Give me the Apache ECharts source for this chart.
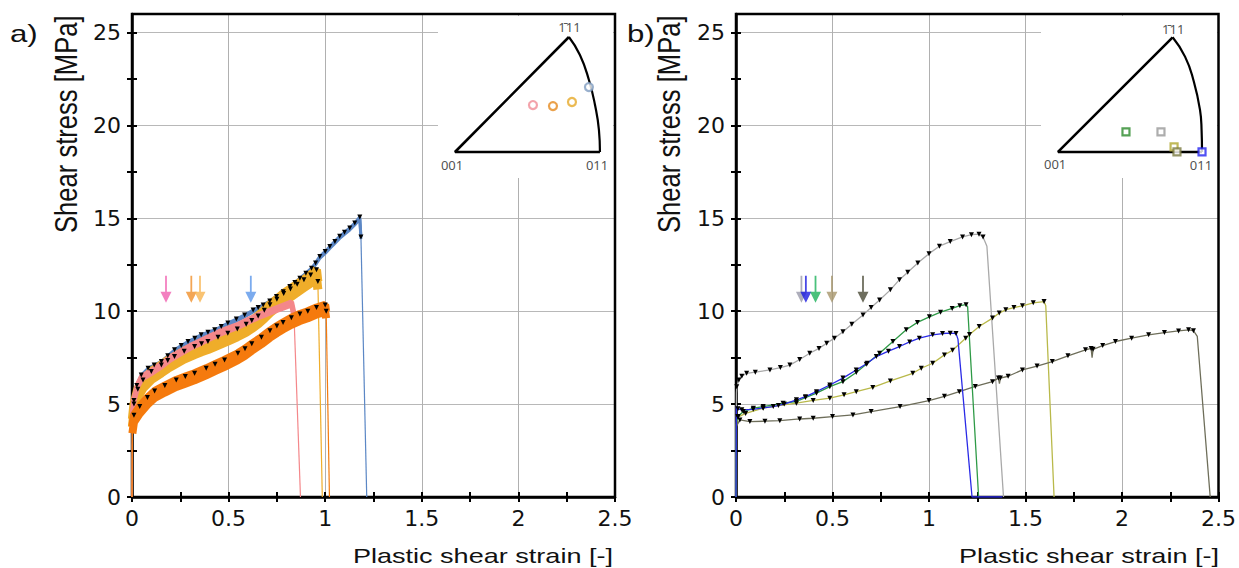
<!DOCTYPE html>
<html><head><meta charset="utf-8">
<script src="https://cdn.jsdelivr.net/npm/echarts@6.0.0/dist/echarts.min.js"></script>
<style>html,body{margin:0;padding:0;background:#fff}#c{width:1239px;height:568px}</style>
</head><body><div id="c"></div>
<script>
// ---------------- data ----------------
const X_TICKS = [0, 0.5, 1, 1.5, 2, 2.5];
const X_MINOR_TICKS = [0, 0.25, 0.5, 0.75, 1, 1.25, 1.5, 1.75, 2, 2.25, 2.5];
const Y_TICKS = [0, 5, 10, 15, 20, 25];
const Y_MINOR_TICKS = [0, 2.5, 5, 7.5, 10, 12.5, 15, 17.5, 20, 22.5, 25];
const Y_MAX = 26;

// panel a) experimental curves (strain, stress)
const curveA_blue = [[0,0],[0.002,4.2],[0.01,5.2],[0.025,6.0],[0.048,6.57],[0.083,6.93],[0.115,7.1],[0.152,7.3],[0.185,7.6],[0.22,7.92],[0.255,8.15],[0.29,8.37],[0.325,8.55],[0.358,8.73],[0.393,8.87],[0.428,9.0],[0.462,9.18],[0.496,9.36],[0.54,9.58],[0.583,9.8],[0.627,10.07],[0.653,10.2],[0.679,10.34],[0.713,10.55],[0.748,10.79],[0.783,11.05],[0.817,11.33],[0.843,11.55],[0.869,11.78],[0.9,12.05],[0.929,12.32],[0.95,12.6],[0.972,12.95],[1.0,13.22],[1.024,13.49],[1.05,13.76],[1.075,14.03],[1.1,14.25],[1.127,14.48],[1.153,14.75],[1.179,15.07],[1.185,14.0],[1.215,0]];
const curveA_pink = [[0,0],[0.002,4.4],[0.01,5.3],[0.03,6.1],[0.05,6.5],[0.1,6.8],[0.15,7.15],[0.2,7.55],[0.25,7.85],[0.3,8.15],[0.35,8.4],[0.4,8.65],[0.45,8.9],[0.5,9.1],[0.55,9.3],[0.6,9.55],[0.65,9.8],[0.7,10.0],[0.75,10.2],[0.8,10.4],[0.826,10.5],[0.838,9.9],[0.872,0]];
const curveA_yellow = [[0,0],[0.002,4.2],[0.01,5.0],[0.03,5.8],[0.057,6.3],[0.1,6.75],[0.152,7.11],[0.185,7.35],[0.22,7.56],[0.27,7.85],[0.324,8.1],[0.36,8.25],[0.393,8.37],[0.445,8.6],[0.496,8.82],[0.545,9.05],[0.591,9.3],[0.62,9.5],[0.653,9.75],[0.685,10.05],[0.714,10.35],[0.75,10.65],[0.785,10.95],[0.82,11.2],[0.855,11.45],[0.89,11.7],[0.925,11.95],[0.955,12.23],[0.962,11.6],[0.985,0]];
const curveA_orange = [[0,0],[0.002,3.8],[0.01,4.4],[0.04,4.87],[0.08,5.35],[0.117,5.7],[0.17,6.0],[0.229,6.3],[0.276,6.48],[0.324,6.66],[0.384,6.93],[0.43,7.15],[0.479,7.38],[0.548,7.74],[0.585,7.98],[0.62,8.25],[0.67,8.6],[0.714,8.95],[0.75,9.2],[0.782,9.4],[0.825,9.65],[0.869,9.85],[0.91,10.0],[0.955,10.2],[1.0,10.34],[1.005,10.0],[1.022,0]];

// panel b) curves
const curveB_gray = [[0,0],[0.002,5.6],[0.004,5.94],[0.015,6.3],[0.03,6.5],[0.055,6.66],[0.1,6.72],[0.176,6.84],[0.23,6.97],[0.279,7.1],[0.33,7.4],[0.382,7.74],[0.43,8.0],[0.47,8.28],[0.51,8.55],[0.554,8.9],[0.6,9.3],[0.658,9.8],[0.7,10.2],[0.744,10.6],[0.8,11.15],[0.847,11.7],[0.89,12.1],[0.942,12.6],[1.0,13.1],[1.054,13.5],[1.11,13.75],[1.174,14.0],[1.22,14.12],[1.259,14.15],[1.28,14.0],[1.3,13.5],[1.386,0]];
const curveB_blue = [[0,0],[0.002,4.87],[0.01,4.75],[0.03,4.69],[0.089,4.72],[0.14,4.8],[0.193,4.87],[0.25,5.0],[0.313,5.23],[0.36,5.4],[0.417,5.67],[0.486,6.03],[0.554,6.4],[0.623,6.84],[0.68,7.2],[0.727,7.56],[0.79,7.85],[0.847,8.1],[0.9,8.35],[0.95,8.55],[1.019,8.73],[1.07,8.8],[1.11,8.82],[1.14,8.8],[1.15,8.5],[1.223,0],[1.38,0]];
const curveB_green = [[0,0],[0.002,4.0],[0.01,4.33],[0.038,4.6],[0.09,4.78],[0.141,4.87],[0.244,5.05],[0.313,5.14],[0.36,5.35],[0.417,5.59],[0.486,5.94],[0.554,6.21],[0.623,6.7],[0.675,7.15],[0.744,7.74],[0.813,8.37],[0.882,9.0],[0.94,9.4],[1.002,9.7],[1.06,9.95],[1.12,10.15],[1.16,10.3],[1.192,10.35],[1.2,10.25],[1.257,0]];
const curveB_yellow = [[0,0],[0.002,3.9],[0.01,4.3],[0.05,4.5],[0.141,4.78],[0.22,4.92],[0.313,5.05],[0.4,5.2],[0.486,5.32],[0.56,5.5],[0.623,5.67],[0.709,5.9],[0.8,6.25],[0.916,6.66],[0.96,6.93],[1.019,7.2],[1.08,7.65],[1.122,7.9],[1.19,8.55],[1.21,8.75],[1.26,9.18],[1.329,9.63],[1.364,9.9],[1.398,10.08],[1.44,10.2],[1.484,10.29],[1.54,10.45],[1.596,10.52],[1.605,10.3],[1.648,0]];
const curveB_dark = [[0,0],[0.002,3.8],[0.02,4.15],[0.072,4.06],[0.15,4.08],[0.227,4.11],[0.33,4.2],[0.4,4.24],[0.5,4.33],[0.606,4.42],[0.7,4.6],[0.85,4.87],[1.0,5.19],[1.08,5.42],[1.157,5.67],[1.24,5.95],[1.329,6.21],[1.36,6.4],[1.365,6.1],[1.37,6.4],[1.41,6.5],[1.484,6.84],[1.56,7.05],[1.639,7.29],[1.72,7.6],[1.811,7.92],[1.84,8.0],[1.845,7.5],[1.85,7.95],[1.9,8.15],[1.966,8.37],[2.05,8.55],[2.138,8.73],[2.22,8.85],[2.293,8.94],[2.345,9.0],[2.37,8.95],[2.39,8.65],[2.457,0]];

// arrows (strain position, tip stress)
const arrowsA_x = [0.176, 0.307, 0.352, 0.615];
const arrowsB_x = [0.339, 0.362, 0.412, 0.497, 0.658];
const ARROW_TIP_Y = 10.45;

// inverse pole figure insets (001 = [0,0], 011 = [1,0])
const ipfA_edges = [[0.786,0.793],[0,0],[1,0]];
const ipfA_arc = [[1,0],[0.993,0.152],[0.966,0.324],[0.924,0.497],[0.862,0.669],[0.786,0.793]];
const ipfA_points = [[0.538,0.324],[0.676,0.317],[0.807,0.345],[0.924,0.448]];
const ipfB_edges = [[0.796,0.796],[0,0],[1,0]];
const ipfB_arc = [[1,0],[0.997,0.15],[0.986,0.292],[0.94,0.5],[0.882,0.662],[0.796,0.796]];
const ipfB_points = [[0.472,0.139],[0.715,0.139],[0.806,0.035],[0.826,0.0],[1.0,0.0]];
const IPF_LABELS = ['001', '011', '1\u030411'];
const ipfA_labelPos = [[-0.02,-0.09],[0.98,-0.09],[0.79,0.86]];
const ipfB_labelPos = [[-0.02,-0.083],[0.993,-0.09],[0.8,0.855]];

// ---------------- styles ----------------
const FONT = 'DejaVu Sans';
const TFONT = 'Liberation Sans';
const colA = {blue:'#5b87c5', pink:'#f4878a', yellow:'#efad2a', orange:'#f57a0c'};
const arrowColA = ['#f060b0', '#f0902a', '#f7b450', '#5a96ea'];
const colB = {gray:'#a9a9a9', green:'#2e9a46', blue:'#2a2ae6', yellow:'#b9b94a', dark:'#6e6e5a'};
const arrowColB = ['#9a9aaa', '#1a1ae0', '#1db25a', '#a6956a', '#4a4a36'];
const ipfColA = ['#f08c96', '#e58a1e', '#e6a928', '#7f9cc0'];
const ipfColB = ['#2a8a2a', '#999999', '#b0a830', '#7a7a40', '#2424f0'];
const ARROW_PATH = 'path://M4.6,0 L6.4,0 L6.4,16 L11,16 L5.5,27 L0,16 L4.6,16 Z';

function mainX(g) {
  const mn = X_TICKS[0], mx = X_TICKS[X_TICKS.length-1];
  const tick = (inside) => ({type:'value', gridIndex:g, position:'bottom', min:mn, max:mx, interval:0.25,
     axisLine:{show:false,onZero:false}, axisLabel:{show:false}, splitLine:{show:false},
     axisTick:{show:true, inside, length:5, customValues:X_MINOR_TICKS, lineStyle:{color:'#000',width:2}}});
  return [
    {type:'value', gridIndex:g, position:'bottom', min:mn, max:mx, interval:X_TICKS[1]-X_TICKS[0],
     axisLine:{show:true,onZero:false,lineStyle:{color:'#000',width:2.5}}, axisTick:{show:false},
     axisLabel:{color:'#111', fontFamily:FONT, fontSize:22, margin:10, customValues:X_TICKS},
     splitLine:{show:true,lineStyle:{color:'#b0b0b0',width:1}}},
    tick(false), tick(true)
  ];
}
function mainY(g) {
  const tick = (inside) => ({type:'value', gridIndex:g, position:'left', min:0, max:Y_MAX, interval:2.5,
     axisLine:{show:false,onZero:false}, axisLabel:{show:false}, splitLine:{show:false},
     axisTick:{show:true, inside, length:5, customValues:Y_MINOR_TICKS, lineStyle:{color:'#000',width:2}}});
  return [
    {type:'value', gridIndex:g, position:'left', min:0, max:Y_MAX, interval:Y_TICKS[1]-Y_TICKS[0],
     axisLine:{show:true,onZero:false,lineStyle:{color:'#000',width:2.5}}, axisTick:{show:false},
     axisLabel:{color:'#111', fontFamily:FONT, fontSize:22, margin:11, customValues:Y_TICKS},
     splitLine:{show:true,lineStyle:{color:'#b8b8b8',width:1}}},
    tick(false), tick(true)
  ];
}

function markerItems(arr, skipFirst) {
  return arr.map((p, i) => {
    const prev = arr[i-1], next = arr[i+1];
    let show = i >= skipFirst && p[1] > 0.5;
    if (next && next[1] < p[1] - 2.5) show = false;          // drop start
    if (prev && next && p[1] < prev[1] - 0.2 && p[1] < next[1] - 0.2) show = false; // dip
    return {value: p, symbol: show ? 'triangle' : 'none'};
  });
}

const series = [];
// panel a
function addA(arr, color, width, band, markers) {
  const n = arr.length;
  series.push({type:'line', xAxisIndex:0, yAxisIndex:0, data:[arr[0], arr[1]], symbol:'none',
    lineStyle:{color, width:1.2}, z:2});
  series.push({type:'line', xAxisIndex:0, yAxisIndex:0, data:[arr[n-2], arr[n-1]], symbol:'none',
    lineStyle:{color, width:1.2}, z:2});
  const main = arr.slice(1, n-1);
  series.push({type:'line', xAxisIndex:0, yAxisIndex:0,
    data: markers ? markerItems(main, 1) : main,
    symbol: markers ? 'triangle' : 'none', showSymbol: markers, symbolSize:5, symbolRotate:180,
    itemStyle:{color:'#000'},
    lineStyle:{color, width, shadowColor:color, shadowBlur:0, shadowOffsetY:band}, z:3});
}
addA(curveA_blue, colA.blue, 3, 2, true);
addA(curveA_yellow, colA.yellow, 9, 8, true);
addA(curveA_pink, colA.pink, 5, 3, false);
addA(curveA_orange, colA.orange, 8, 7, true);

series.push({type:'scatter', xAxisIndex:0, yAxisIndex:0, symbol:ARROW_PATH, symbolSize:[11,27],
  symbolOffset:[0,'-50%'], z:6,
  data: arrowsA_x.map((x,i) => ({value:[x, ARROW_TIP_Y], itemStyle:{color:arrowColA[i]}}))});

// panel b
[[curveB_gray, colB.gray],[curveB_yellow, colB.yellow],[curveB_dark, colB.dark],
 [curveB_green, colB.green],[curveB_blue, colB.blue]].forEach(([arr, color]) => {
  series.push({type:'line', xAxisIndex:3, yAxisIndex:3, data:markerItems(arr, 2),
    symbolSize:5, symbolRotate:180, itemStyle:{color:'#000'},
    lineStyle:{color, width:1.3}, z:3});
});
series.push({type:'scatter', xAxisIndex:3, yAxisIndex:3, symbol:ARROW_PATH, symbolSize:[11,27],
  symbolOffset:[0,'-50%'], z:6,
  data: arrowsB_x.map((x,i) => ({value:[x, ARROW_TIP_Y], itemStyle:{color:arrowColB[i]}}))});

// insets
function addIpf(ax, edges, arc, pts, cols, symbol, size, labelPos) {
  series.push({type:'line', xAxisIndex:ax, yAxisIndex:ax, data:edges, symbol:'none',
    lineStyle:{color:'#000', width:2.6}, z:12});
  series.push({type:'line', xAxisIndex:ax, yAxisIndex:ax, data:arc, symbol:'none', smooth:0.5,
    lineStyle:{color:'#000', width:2.2}, z:12});
  series.push({type:'scatter', xAxisIndex:ax, yAxisIndex:ax, symbol, symbolSize:size, z:13,
    data: pts.map((p,i) => ({value:p, itemStyle:{color:'#fff', borderColor:cols[i], borderWidth:2.2}}))});
  series.push({type:'scatter', xAxisIndex:ax, yAxisIndex:ax, symbolSize:0, z:13,
    data: labelPos.map((p,i) => ({value:p, name:IPF_LABELS[i]})),
    label:{show:true, position:'inside', formatter:'{b}', color:'#222', fontFamily:'Noto Sans', fontSize:13}});
}
addIpf(6, ipfA_edges, ipfA_arc, ipfA_points, ipfColA, 'circle', 8, ipfA_labelPos);
addIpf(7, ipfB_edges, ipfB_arc, ipfB_points, ipfColB, 'rect', 7, ipfB_labelPos);

function yTitle(x) {
  return {type:'text', x, y:233, rotation:Math.PI/2, scaleY:1.2,
    style:{text:'Shear stress [MPa]', fontSize:25.6, fontFamily:TFONT, fill:'#111', align:'left', verticalAlign:'middle'}};
}
function xTitle(x) {
  return {type:'text', x, y:556, scaleX:1.32,
    style:{text:'Plastic shear strain [-]', fontSize:20.5, fontFamily:TFONT, fill:'#111', align:'right', verticalAlign:'middle'}};
}
function panelTag(x, t) {
  return {type:'text', x, y:34, scaleX:1.3,
    style:{text:t, fontSize:24, fontFamily:TFONT, fill:'#111', align:'left', verticalAlign:'middle'}};
}

const option = {
  animation:false,
  backgroundColor:'#fff',
  grid:[
    {left:132, top:14, width:483, height:483, show:true, borderColor:'#000', borderWidth:2.5, z:1},
    {left:736, top:14, width:484, height:483, show:true, borderColor:'#000', borderWidth:2.5, z:1},
    {left:438, top:16, width:175, height:162, show:true, backgroundColor:'#fff', borderWidth:0, z:5},
    {left:1041, top:16, width:176, height:162, show:true, backgroundColor:'#fff', borderWidth:0, z:5}
  ],
  xAxis:[...mainX(0), ...mainX(1),
    {type:'value', gridIndex:2, min:-0.117, max:1.09, show:false},
    {type:'value', gridIndex:3, min:-0.118, max:1.104, show:false}],
  yAxis:[...mainY(0), ...mainY(1),
    {type:'value', gridIndex:2, min:-0.179, max:0.938, show:false},
    {type:'value', gridIndex:3, min:-0.181, max:0.944, show:false}],
  series,
  graphic:[
    panelTag(10, 'a)'), panelTag(627, 'b)'),
    yTitle(66), yTitle(669),
    xTitle(613), xTitle(1219)
  ]
};
const chart = echarts.init(document.getElementById('c'), null, {renderer:'svg'});
chart.setOption(option);
</script></body></html>
